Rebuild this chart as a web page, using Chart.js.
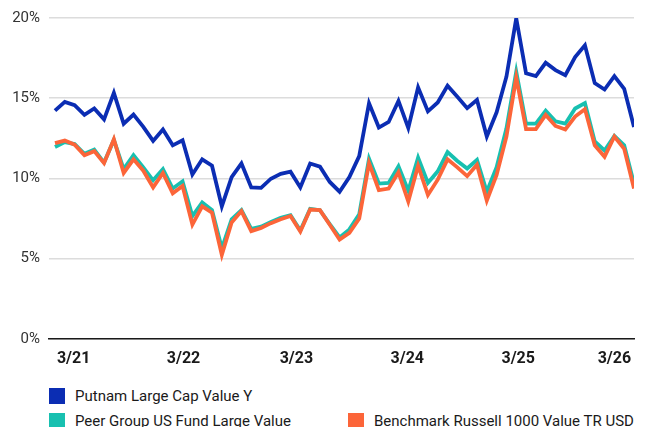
<!DOCTYPE html>
<html>
<head>
<meta charset="utf-8">
<script src="https://cdn.jsdelivr.net/npm/chart.js@4.4.1/dist/chart.umd.min.js"></script>
<style>
  html, body { margin: 0; padding: 0; background: #ffffff; }
  #wrap { position: relative; width: 649px; height: 427px; overflow: hidden; font-family: Roboto, "Liberation Sans", sans-serif; }
  #box { position: absolute; left: 0; top: 0; width: 649px; height: 380px; }
  .lg { position: absolute; display: flex; align-items: center; font-size: 15px; color: #1a1a1a; white-space: nowrap; height: 20px; }
  .sw { width: 16px; height: 16px; margin-right: 10px; flex: none; }
</style>
</head>
<body>
<div id="wrap">
  <div id="box"><canvas id="c"></canvas></div>
  <div id="legend"></div>
</div>
<script>
// ---- data ----
const seriesNames = ["Putnam Large Cap Value Y", "Peer Group US Fund Large Value", "Benchmark Russell 1000 Value TR USD"];
const seriesColors = ["#0b2db3", "#18c0b0", "#fc6539"];

const putnam = [14.22,14.77,14.56,13.96,14.36,13.68,15.33,13.41,13.98,13.21,
  12.34,13.05,12.06,12.38,10.24,11.19,10.79,8.26,10.08,10.93,
  9.44,9.41,9.98,10.28,10.42,9.44,10.93,10.73,9.78,9.17,
  10.08,11.39,14.69,13.17,13.52,14.83,13.15,15.68,14.18,14.73,
  15.78,15.09,14.38,14.89,12.61,14.12,16.34,19.98,16.55,16.38,
  17.21,16.75,16.44,17.56,18.30,15.94,15.54,16.38,15.58,13.21];

const peerGroup = [11.96,12.26,12.14,11.53,11.80,10.99,12.40,10.58,11.45,10.69,
  9.88,10.58,9.37,9.82,7.65,8.50,8.02,5.64,7.45,8.02,
  6.85,6.99,7.29,7.55,7.70,6.75,8.10,8.02,7.15,6.32,
  6.82,7.76,11.23,9.68,9.72,10.75,9.23,11.29,9.72,10.44,
  11.64,11.09,10.62,11.15,9.17,10.69,13.11,16.65,13.41,13.41,
  14.22,13.56,13.41,14.36,14.69,12.30,11.74,12.65,12.06,9.68];

const benchmark = [12.20,12.36,12.10,11.45,11.70,10.95,12.44,10.34,11.19,10.48,
  9.44,10.34,9.07,9.53,7.12,8.26,7.86,5.23,7.25,7.96,
  6.71,6.91,7.21,7.45,7.66,6.69,8.06,8.02,7.11,6.18,
  6.60,7.50,10.95,9.27,9.37,10.38,8.56,10.79,8.97,9.92,
  11.19,10.69,10.14,10.85,8.62,10.22,12.61,16.30,13.07,13.07,
  13.96,13.27,13.05,13.86,14.32,12.06,11.35,12.61,11.84,9.37];

// x tick labels and where they fall, in data-index units
const xTickLabels = ["3/21", "3/22", "3/23", "3/24", "3/25", "3/26"];
const xTickAt = [1.9, 13.1, 24.6, 35.9, 47.2, 57.0];

const yTicks = [0, 5, 10, 15, 20];

// ---- build ----
const toXY = arr => arr.map((v, i) => ({ x: i, y: v }));

const ds = [
  { label: seriesNames[0], data: toXY(putnam), borderColor: seriesColors[0] },
  { label: seriesNames[2], data: toXY(benchmark), borderColor: seriesColors[2] },
  { label: seriesNames[1], data: toXY(peerGroup), borderColor: seriesColors[1] }
].map(d => Object.assign(d, {
  borderWidth: 3.8, pointRadius: 0, tension: 0, fill: false,
  borderJoinStyle: 'miter', borderCapStyle: 'butt'
}));

new Chart(document.getElementById('c'), {
  type: 'line',
  data: { datasets: ds },
  options: {
    responsive: true,
    maintainAspectRatio: false,
    animation: false,
    layout: { padding: { left: 0, right: 15, top: 13, bottom: 0 } },
    plugins: { legend: { display: false }, tooltip: { enabled: false } },
    scales: {
      x: {
        type: 'linear',
        min: -0.61,
        max: putnam.length - 1,
        grid: { display: false, drawTicks: false },
        border: { display: true, color: '#1a1a1a', width: 1.6 },
        afterBuildTicks: s => { s.ticks = xTickAt.map(v => ({ value: v })); },
        ticks: {
          autoSkip: false, maxRotation: 0, padding: 11,
          color: '#1a1a1a',
          font: { family: '"Liberation Sans Narrow", Roboto, sans-serif', size: 16, weight: 'bold' },
          callback: v => { const k = xTickAt.indexOf(v); return k >= 0 ? xTickLabels[k] : ''; }
        }
      },
      y: {
        min: 0, max: 20,
        afterBuildTicks: s => { s.ticks = yTicks.map(v => ({ value: v })); },
        afterFit: s => { s.width = 49; },
        grid: { color: '#dcdcdc', lineWidth: 1.6, drawTicks: false },
        border: { display: false },
        ticks: {
          padding: 9, color: '#333333',
          font: { family: '"Liberation Sans Narrow", Roboto, sans-serif', size: 15 },
          callback: v => v + '%'
        }
      }
    }
  }
});

// ---- legend (HTML, real text) ----
const legendSpots = [
  { i: 0, left: 49, top: 386 },
  { i: 1, left: 49, top: 411 },
  { i: 2, left: 348, top: 411 }
];
const lg = document.getElementById('legend');
legendSpots.forEach(p => {
  const d = document.createElement('div');
  d.className = 'lg';
  d.style.left = p.left + 'px';
  d.style.top = p.top + 'px';
  const s = document.createElement('span');
  s.className = 'sw';
  s.style.background = seriesColors[p.i];
  d.appendChild(s);
  d.appendChild(document.createTextNode(seriesNames[p.i]));
  lg.appendChild(d);
});
</script>
</body>
</html>
